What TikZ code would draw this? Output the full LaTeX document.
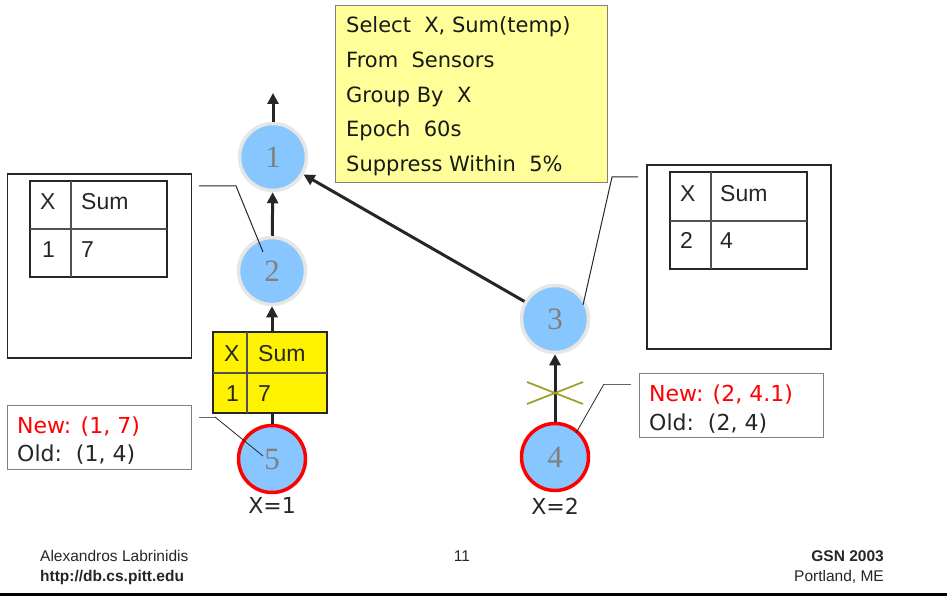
\documentclass[tikz,border=0pt]{standalone}
\usepackage{fontspec}
\setmainfont{Liberation Sans}
\newfontfamily\qfont{DejaVu Sans}
\newfontfamily\tfont{DejaVu Sans}
\newfontfamily\numfont{Liberation Serif}
\usetikzlibrary{arrows.meta,calc}
\definecolor{nodeblue}{RGB}{136,198,255}
\definecolor{rimgray}{RGB}{230,230,230}
\definecolor{darkline}{RGB}{38,38,38}
\definecolor{qyellow}{RGB}{255,255,153}
\definecolor{olivex}{RGB}{160,160,48}
\tikzset{
  sensor/.style={circle, fill=nodeblue, draw=rimgray, line width=3.5pt, minimum size=67pt, inner sep=0pt,
     font=\numfont\fontsize{31}{31}\selectfont, text=gray},
  hotsensor/.style={sensor, draw=red},
  flow/.style={draw=darkline, line width=3pt, -{Triangle[width=11pt,length=11pt]}},
  callout/.style={draw=darkline, line width=1pt},
  graycallout/.style={draw=gray!80!black, line width=1pt},
  tabtxt/.style={font=\fontsize{23}{23}\selectfont, anchor=base west, inner sep=0pt, text=black!85},
  oldtxt/.style={font=\tfont\fontsize{22}{22}\selectfont, anchor=base west, inner sep=0pt, text=black!85},
  newtxt/.style={oldtxt, text=red},
  qtxt/.style={font=\qfont\fontsize{21}{21}\selectfont, anchor=base west, inner sep=0pt, text=black!90},
  foot/.style={font=\fontsize{15.5}{15.5}\selectfont, inner sep=0pt, text=black!85},
  tabframe/.style={draw=darkline, line width=2.5pt},
  tabgrid/.style={draw=darkline!80, line width=1.3pt},
}
\begin{document}
\begin{tikzpicture}[x=1pt,y=-1pt]
\useasboundingbox (0,0) rectangle (947,596);

% query box
\node[draw=gray, line width=1pt, fill=qyellow, minimum width=272pt, minimum height=177pt, inner sep=0pt] (query) at (471,94) {};
\node[qtxt] (q1) at (346,33) {Select\ \ X, Sum(temp)};
\node[qtxt] (q2) at (346,68) {From\ \ Sensors};
\node[qtxt] (q3) at (346,103) {Group By\ \ X};
\node[qtxt] (q4) at (346,137) {Epoch\ \ 60s};
\node[qtxt] (q5) at (346,172) {Suppress Within\ \ 5\%};

% sensors
\node[sensor] (n1) at (273,157) {1};
\node[sensor] (n2) at (272,271) {2};
\node[sensor] (n3) at (555,319) {3};
\node[hotsensor] (n5) at (272,459) {5};
\node[hotsensor] (n4) at (555,457) {4};
\node[font=\tfont\fontsize{22}{22}\selectfont, anchor=base, inner sep=0pt, text=black!85] (x1) at (272,513) {X=1};
\node[font=\tfont\fontsize{22}{22}\selectfont, anchor=base, inner sep=0pt, text=black!85] (x2) at (555,514) {X=2};

% yellow message table
\node[fill=yellow, tabframe, minimum width=114pt, minimum height=81pt, inner sep=0pt] (ytab) at (270,372.5) {};
\draw[tabgrid] (247,332) -- (247,413);
\draw[tabgrid] (213,373) -- (327,373);
\node[tabtxt] (yx) at (224,361) {X};
\node[tabtxt] (ys) at (258,361) {Sum};
\node[tabtxt] (y1) at (226,401) {1};
\node[tabtxt] (y7) at (258,401) {7};

% arrows
\coordinate (top) at (273,93);
\draw[flow] (n1) -- (top);
\draw[flow] (n2) -- (n1);
\draw[flow] (ytab.north -| n2) -- (n2);
\draw[draw=darkline, line width=3pt] (n5) -- (n5 |- ytab.south);
\draw[flow] (n4) -- (n3);
\draw[flow] (n3) -- (n1);
% suppressed cross
\coordinate (cx) at (555,393);
\draw[olivex, line width=1.8pt] ($(cx)+(-28,-11)$) -- ($(cx)+(28,11)$);
\draw[olivex, line width=1.8pt] ($(cx)+(-28,11)$) -- ($(cx)+(28,-11)$);

% left state box
\node[draw=darkline, line width=1.5pt, minimum width=184pt, minimum height=184pt, inner sep=0pt] (lbox) at (99.5,266) {};
\draw[tabframe] (30,181) rectangle (167,277);
\draw[tabgrid] (71,181) -- (71,277);
\draw[tabgrid] (30,229) -- (167,229);
\node[tabtxt] (lx) at (40,209) {X};
\node[tabtxt] (ls) at (81,209) {Sum};
\node[tabtxt] (l1) at (42,257) {1};
\node[tabtxt] (l7) at (81,257) {7};
\coordinate (lc0) at (199,186);
\coordinate (lc1) at (236,186);
\coordinate (lc2) at (263,252);
\draw[callout] (lc0) -- (lc1) -- (lc2);

% right state box
\node[draw=darkline, line width=1.5pt, minimum width=184pt, minimum height=184pt, inner sep=0pt] (rbox) at (739,257) {};
\draw[tabframe] (670,172) rectangle (807,269);
\draw[tabgrid] (711,172) -- (711,269);
\draw[tabgrid] (670,221) -- (807,221);
\node[tabtxt] (rx) at (680,201) {X};
\node[tabtxt] (rs) at (720,201) {Sum};
\node[tabtxt] (r2) at (680,248) {2};
\node[tabtxt] (r4) at (720,248) {4};
\coordinate (rc0) at (638,177);
\coordinate (rc1) at (612,177);
\coordinate (rc2) at (583,305);
\draw[callout] (rc0) -- (rc1) -- (rc2);

% left new/old
\node[draw=gray, line width=1pt, minimum width=184pt, minimum height=64pt, inner sep=0pt] (lno) at (99,437) {};
\node[newtxt] (ln) at (17,433) {New: (1, 7)};
\node[oldtxt] (lo) at (17,461) {Old:\ \ (1, 4)};
\coordinate (ld0) at (199,417);
\coordinate (ld1) at (215,417);
\coordinate (ld2) at (263,456);
\draw[graycallout] (ld0) -- (ld1);
\draw[callout, line width=0.8pt] (ld1) -- (ld2);

% right new/old
\node[draw=gray, line width=1pt, minimum width=184pt, minimum height=64pt, inner sep=0pt] (rno) at (731,405) {};
\node[newtxt] (rn) at (649,401) {New: (2, 4.1)};
\node[oldtxt] (ro) at (649,430) {Old:\ \ (2, 4)};
\coordinate (rd0) at (631,384);
\coordinate (rd1) at (604,384);
\coordinate (rd2) at (576,433);
\draw[graycallout] (rd0) -- (rd1);
\draw[callout, line width=0.8pt] (rd1) -- (rd2);

% footer
\node[foot, anchor=base west] (f1) at (40,561) {Alexandros Labrinidis};
\node[foot, anchor=base west] (f2) at (40,581) {\bfseries http://db.cs.pitt.edu};
\node[foot, anchor=base] (f3) at (462,561) {11};
\node[foot, anchor=base east] (f4) at (884,561) {\bfseries GSN 2003};
\node[foot, anchor=base east] (f5) at (884,581) {Portland, ME};
\coordinate (b0) at (0,594);
\coordinate (b1) at (947,594);
\draw[black, line width=3pt] (b0) -- (b1);
\end{tikzpicture}
\end{document}
